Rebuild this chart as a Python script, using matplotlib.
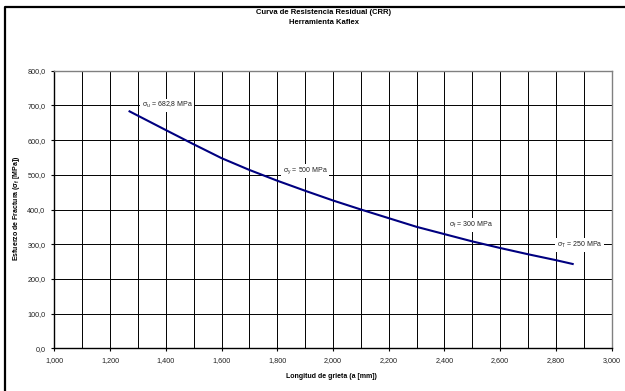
import matplotlib
matplotlib.use("Agg")
import matplotlib.pyplot as plt
from matplotlib.lines import Line2D
from matplotlib.ticker import MultipleLocator, FuncFormatter

# =========================
# Datos
# =========================

crack_mm = [1.27, 1.40, 1.50, 1.60, 1.70, 1.80, 1.90, 2.00, 2.10,
            2.20, 2.30, 2.40, 2.50, 2.60, 2.70, 2.80, 2.86]
stress_mpa = [682.8, 629, 588, 548, 514, 483, 454, 426, 400,
              375, 350, 329, 308, 289, 271, 254, 243]

label_text = [r"σ$_\mathrm{u}$ = 682,8 MPa", r"σ$_\mathrm{y}$ = 500 MPa",
              r"σ$_\mathrm{f}$ = 300 MPa", r"σ$_\mathrm{T}$ = 250 MPa"]
label_x = [1.405, 1.90, 2.496, 2.884]
label_y = [700, 512, 356, 297]

plt.rcParams['font.family'] = ['Liberation Sans', 'DejaVu Sans']
plt.rcParams['mathtext.fontset'] = 'custom'
plt.rcParams['mathtext.rm'] = 'Liberation Sans'
plt.rcParams['mathtext.it'] = 'Liberation Sans:italic'
plt.rcParams['mathtext.bf'] = 'Liberation Sans:bold'

# =========================
# Graficar
# =========================

fig = plt.figure(figsize=(6.25, 3.91), dpi=100)
ax = fig.add_axes([54.3/625, 1 - 348.3/391, (611.7 - 54.3)/625, (348.3 - 70.7)/391])

ax.plot(crack_mm, stress_mpa, color='#000080', lw=1.5, zorder=3)

for txt, x, y in zip(label_text, label_x, label_y):
    ax.text(x, y, txt, fontsize=5, ha='center', va='center', color='#222222', zorder=4,
            bbox=dict(facecolor='white', edgecolor='none', pad=1.2))

ax.set_xlim(1.0, 3.0)
ax.set_ylim(0, 800)
ax.xaxis.set_major_locator(MultipleLocator(0.2))
ax.xaxis.set_minor_locator(MultipleLocator(0.1))
ax.yaxis.set_major_locator(MultipleLocator(100))
ax.xaxis.set_major_formatter(FuncFormatter(lambda v, p: f"{v:.3f}".replace('.', ',')))
ax.yaxis.set_major_formatter(FuncFormatter(lambda v, p: f"{v:.1f}".replace('.', ',')))

ax.grid(which='both', color='black', lw=0.7)
ax.set_axisbelow(True)
ax.tick_params(which='major', direction='out', length=2.5, width=0.8, labelsize=5.2,
               labelcolor='#222222', pad=4)
ax.tick_params(which='minor', length=0)

for s in ['left', 'bottom']:
    ax.spines[s].set_linewidth(1.0)
for s in ['top', 'right']:
    ax.spines[s].set_color('#808080')
    ax.spines[s].set_linewidth(1.0)

fig.text(324/625, 1 - 13/391, "Curva de Resistencia Residual (CRR)",
         ha='center', va='center', fontsize=5.5, fontweight='bold')
fig.text(324/625, 1 - 23/391, "Herramienta Kaflex",
         ha='center', va='center', fontsize=5.5, fontweight='bold')
fig.text(331/625, 1 - 377/391, "Longitud de grieta (a [mm])",
         ha='center', va='center', fontsize=5, fontweight='bold')
fig.text(17/625, 1 - 208/391, r"Esfuerzo de Fractura (σ$_\mathbf{f}$ [MPa])",
         ha='center', va='center', fontsize=5, fontweight='bold', rotation=90)

# marco del grafico (solo se ven lado izquierdo y superior)
fig.add_artist(Line2D([4.5/625, 4.5/625, 1.0], [0.0, 1 - 6.7/391, 1 - 6.7/391],
                      transform=fig.transFigure, color='black', lw=1.6))

fig.savefig("out.png", dpi=100)
